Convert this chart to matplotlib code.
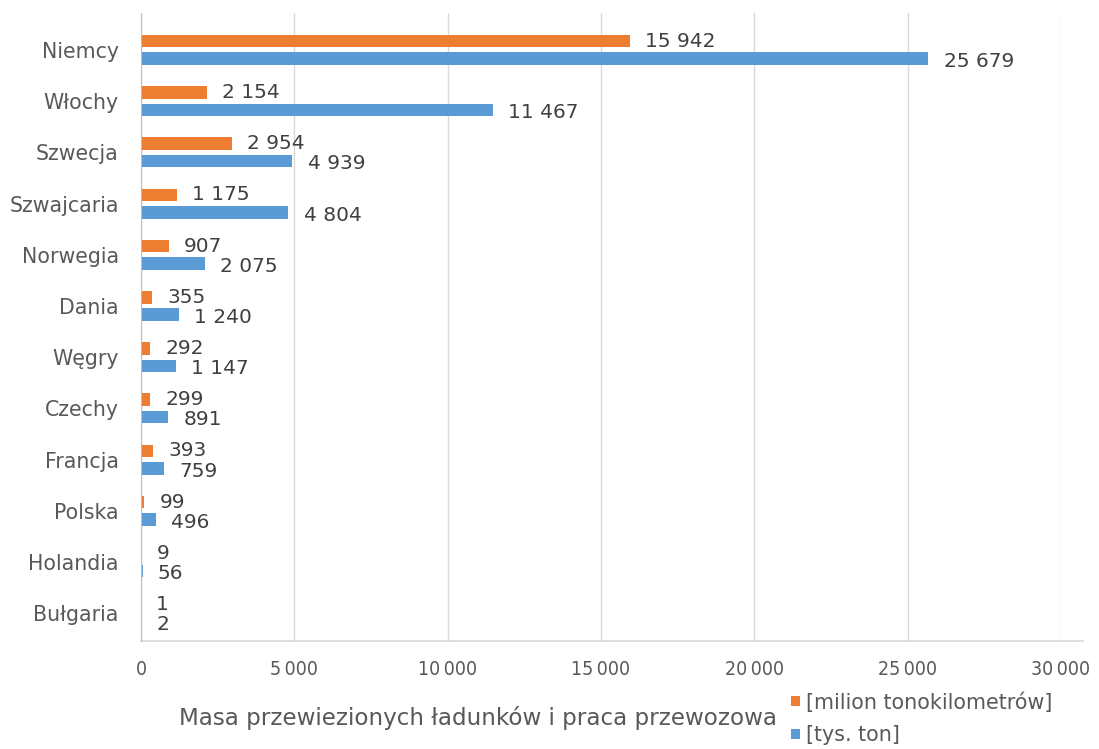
import matplotlib
matplotlib.use('Agg')
import matplotlib.pyplot as plt
import numpy as np
from matplotlib.lines import Line2D

# ---- data ----
countries = ['Niemcy', 'Włochy', 'Szwecja', 'Szwajcaria', 'Norwegia', 'Dania',
             'Węgry', 'Czechy', 'Francja', 'Polska', 'Holandia', 'Bułgaria']
tkm = [15942, 2154, 2954, 1175, 907, 355, 292, 299, 393, 99, 9, 1]
tons = [25679, 11467, 4939, 4804, 2075, 1240, 1147, 891, 759, 496, 56, 2]
xticks = [0, 5000, 10000, 15000, 20000, 25000, 30000]
series_names = ['[milion tonokilometrów]', '[tys. ton]']
axis_title = 'Masa przewiezionych ładunków i praca przewozowa'

ORANGE = '#ED7D31'
BLUE = '#5B9BD5'
GRID = '#D9D9D9'
TXT = '#595959'
LBL = '#404040'

plt.rcParams['font.family'] = ['DejaVu Sans']


def fmt(v, sep=' '):
    return f'{v:,}'.replace(',', sep)


fig = plt.figure(figsize=(10.99, 7.49), dpi=100)
ax = fig.add_axes([141 / 1099, 1 - 641 / 749, 920 / 1099, 628 / 749])

y = np.arange(len(countries))
b1 = ax.barh(y - 0.17, tkm, height=0.245, color=ORANGE, zorder=3)
b2 = ax.barh(y + 0.17, tons, height=0.245, color=BLUE, zorder=3)

ax.set_xlim(0, 30000)
ax.set_ylim(11.54, -0.72)

ax.set_xticks(xticks)
ax.set_xticklabels([fmt(v, '\u2009') for v in xticks], fontstretch='condensed')
ax.set_yticks(y)
ax.set_yticklabels(countries)
ax.tick_params(axis='both', length=0, colors=TXT)
ax.tick_params(axis='y', labelsize=14.8, pad=16)
ax.tick_params(axis='x', labelsize=14, pad=14)

ax.grid(axis='x', color=GRID, lw=1, zorder=0)
for s in ['top', 'right', 'bottom']:
    ax.spines[s].set_visible(False)
ax.spines['left'].set_color('#BFBFBF')
ax.spines['left'].set_zorder(4)
ax.add_line(Line2D([0, 1.024], [0, 0], transform=ax.transAxes, color=GRID,
                   lw=1.2, clip_on=False))

for yi, v in zip(y, tkm):
    ax.annotate(fmt(v), xy=(v, yi - 0.17), xytext=(11, 0), textcoords='offset points',
                va='center', ha='left', fontsize=14.5, color=LBL)
for yi, v in zip(y, tons):
    ax.annotate(fmt(v), xy=(v, yi + 0.17), xytext=(11, -2), textcoords='offset points',
                va='center', ha='left', fontsize=14.5, color=LBL)

ax.set_xlabel(axis_title, fontsize=16.6, color=TXT, va='center')
ax.xaxis.set_label_coords((478 - 141) / 920, -(718 - 641) / 628)

fig.legend(handles=[b1, b2], labels=series_names, loc='upper left',
           bbox_to_anchor=(791 / 1099, 1 - 692 / 749), frameon=False,
           fontsize=14.9, handlelength=0.42, handleheight=0.42,
           handletextpad=0.3, labelspacing=0.62, borderpad=0, borderaxespad=0,
           labelcolor=TXT)

fig.savefig('out.png', dpi=100)
